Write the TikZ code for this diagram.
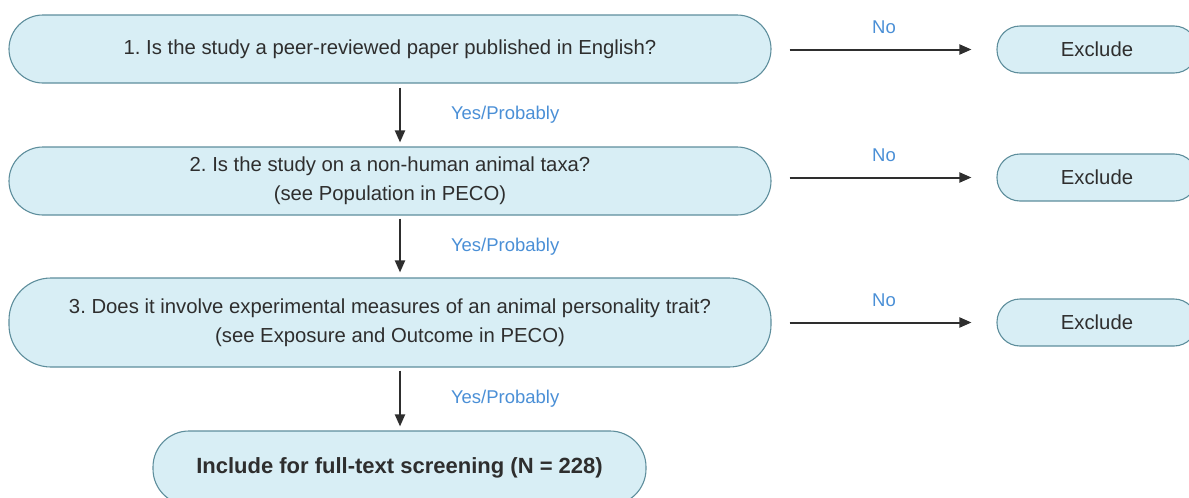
\documentclass[tikz,border=0pt]{standalone}
\usepackage{fontspec}
\setmainfont{Liberation Sans}
\usetikzlibrary{arrows.meta}
\definecolor{boxfill}{HTML}{D8EEF5}
\definecolor{boxline}{HTML}{5E8E9C}
\definecolor{ink}{HTML}{2E2E2E}
\definecolor{labelblue}{HTML}{4A8FD6}
\frenchspacing
\tikzset{
  question/.style={draw=boxline, fill=boxfill, line width=1.1pt, text=ink,
    minimum width=762pt, align=center, font=\fontsize{20.3}{29}\selectfont, inner sep=0pt},
  outbox/.style={draw=boxline, fill=boxfill, line width=1.1pt, text=ink,
    minimum width=200pt, minimum height=47pt, rounded corners=23pt,
    font=\fontsize{20.3}{22}\selectfont, inner sep=0pt},
  flow/.style={draw=ink, line width=2pt, -{Triangle[length=12pt,width=10pt]}},
  choice/.style={text=labelblue, font=\fontsize{18.5}{20}\selectfont, inner sep=0pt}
}
\begin{document}
\begin{tikzpicture}[x=1pt,y=-1pt]
\useasboundingbox (0,0) rectangle (1189,498);
\clip (0,0) rectangle (1189,498);

% screening questions
\node[question, minimum height=68pt, rounded corners=34pt] (q1) at (390,49)
  {1. Is the study a peer-reviewed paper published in English?};
\node[question, minimum height=68pt, rounded corners=34pt] (q2) at (390,181)
  {2. Is the study on a non-human animal taxa?\\(see Population in PECO)};
\node[question, minimum height=89pt, rounded corners=42pt] (q3) at (390,322.5)
  {3. Does it involve experimental measures of an animal personality trait?\\(see Exposure and Outcome in PECO)};
\node[question, minimum width=493pt, minimum height=74pt, rounded corners=36pt,
  font=\fontsize{22}{24}\selectfont\bfseries] (inc) at (399.5,468)
  {Include for full-text screening (N = 228)};

% exclusion outcomes
\node[outbox] (x1) at (1097,49.5) {Exclude};
\node[outbox] (x2) at (1097,177.5) {Exclude};
\node[outbox] (x3) at (1097,322.5) {Exclude};

% "yes" path down the left column
\coordinate (col) at (400,0);
\draw[flow, shorten <=4pt, shorten >=4pt] (q1.south -| col) -- node[choice, anchor=west, xshift=50pt] {Yes/Probably} (q2.north -| col);
\draw[flow, shorten <=3pt, shorten >=5pt] (q2.south -| col) -- node[choice, anchor=west, xshift=50pt] {Yes/Probably} (q3.north -| col);
\draw[flow, shorten <=3pt, shorten >=4pt] (q3.south -| col) -- node[choice, anchor=west, xshift=50pt] {Yes/Probably} (inc.north -| col);

% "no" branches to the right
\draw[flow, shorten <=18pt, shorten >=25pt] (q1.east |- x1) -- node[choice, above=15pt] {No} (x1.west);
\draw[flow, shorten <=18pt, shorten >=25pt] (q2.east |- x2) -- node[choice, above=15pt] {No} (x2.west);
\draw[flow, shorten <=18pt, shorten >=25pt] (q3.east |- x3) -- node[choice, above=15pt] {No} (x3.west);
\end{tikzpicture}
\end{document}
